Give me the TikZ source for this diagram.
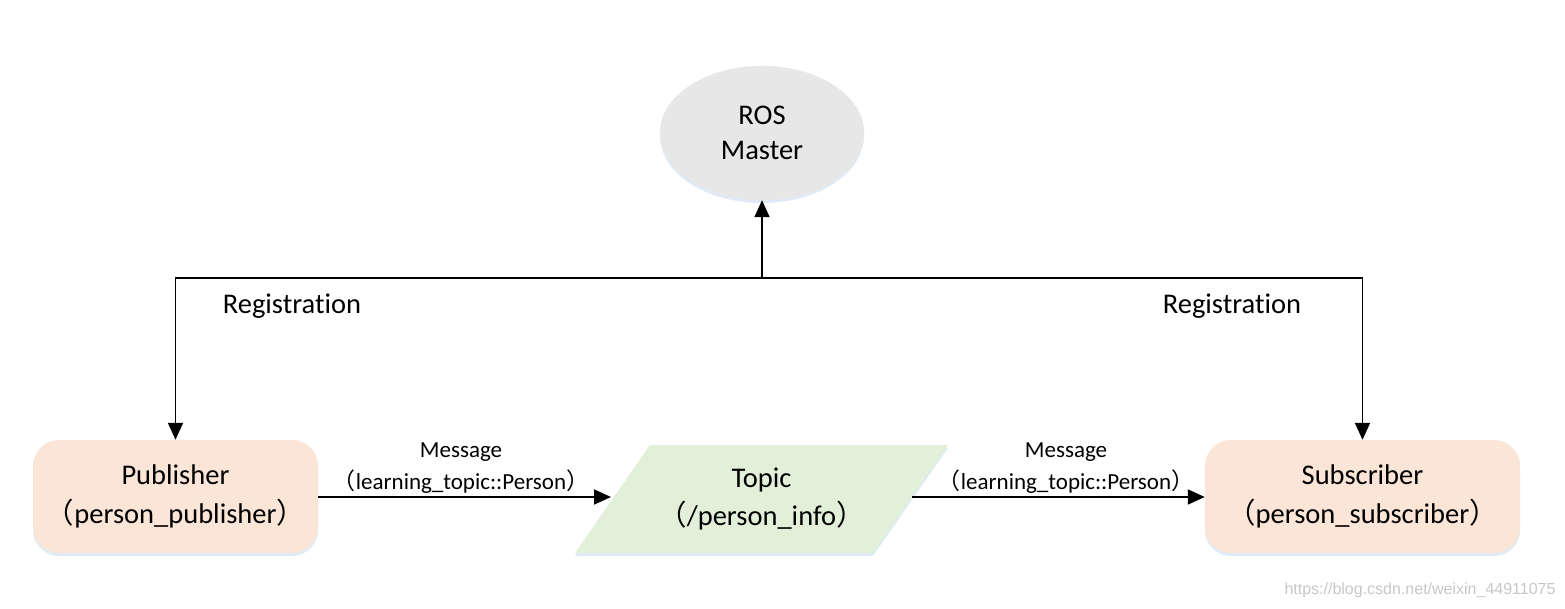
\documentclass[tikz,border=0pt]{standalone}
\usepackage{fontspec}
\setmainfont{Carlito}[Ligatures=NoCommon]
\newfontfamily\cjk{Noto Sans CJK SC}
\newfontfamily\wm{Liberation Sans}
\usetikzlibrary{arrows.meta,shapes.geometric,shadows}
\definecolor{peach}{HTML}{FBE5D6}
\definecolor{mint}{HTML}{E2F0D9}
\definecolor{mastergray}{HTML}{E7E7E7}
\definecolor{glow}{HTML}{C9DCF0}
\newcommand{\lp}{{\cjk （}}
\newcommand{\rp}{{\cjk ）}}
\begin{document}
\begin{tikzpicture}[x=1pt,y=1pt,
  shd/.style={drop shadow={shadow xshift=0pt,shadow yshift=-3pt,fill=glow,opacity=0.6}},
  nodebox/.style={rounded corners=26pt,fill=peach,minimum height=113pt,align=center,font=\fontsize{28.5}{39}\selectfont,shd},
  master/.style={ellipse,fill=mastergray,draw=mastergray!80!black!30,minimum width=204pt,minimum height=134pt,align=center,font=\fontsize{28.5}{35}\selectfont,shd},
  conn/.style={line width=1.8pt,-{Triangle[length=17pt,width=15pt]}},
  lbl/.style={font=\fontsize{28.5}{32}\selectfont},
  msg/.style={font=\fontsize{23}{26}\selectfont},
  wmark/.style={font=\wm\fontsize{16}{18}\selectfont,text=black!22}
]
\useasboundingbox (0,0) rectangle (1565,608);
\node[master] (ros) at (762,475) {ROS\\Master};
\node[nodebox,minimum width=285pt] (pub) at (175.5,111.5) {Publisher\\\lp person\_publisher\rp};
\node[nodebox,minimum width=315pt] (sub) at (1362.5,111.5) {Subscriber\\\lp person\_subscriber\rp};
\path[fill=mint,shd] (575,55) -- (650,163) -- (948,163) -- (873,55) -- cycle;
\node[font=\fontsize{28.5}{38}\selectfont,align=center,inner sep=0pt,minimum width=228pt,minimum height=108pt] (topic) at (761.5,109) {Topic\\\lp /person\_info\rp};
\coordinate (hub) at (762,330);
\draw[conn] (hub) -- (ros.south);
\draw[conn] (hub) -| (pub.north);
\draw[conn] (hub) -| (sub.north);
\coordinate (tl) at (611,111);
\coordinate (tr) at (912,111);
\draw[conn] (pub.east |- tl) -- (tl);
\draw[conn] (tr) -- (sub.west |- tr);
\node[lbl] (reg1) at (292,302) {Registration};
\node[lbl] (reg2) at (1232,302) {Registration};
\node[msg] (m1) at (461,156) {Message};
\node[msg] (m1b) at (461,126) {\lp learning\_topic::Person\rp};
\node[msg] (m2) at (1066,156) {Message};
\node[msg] (m2b) at (1066,126) {\lp learning\_topic::Person\rp};
\node[wmark] (wm) at (1420,18) {https://blog.csdn.net/weixin\_44911075};
\end{tikzpicture}
\end{document}
